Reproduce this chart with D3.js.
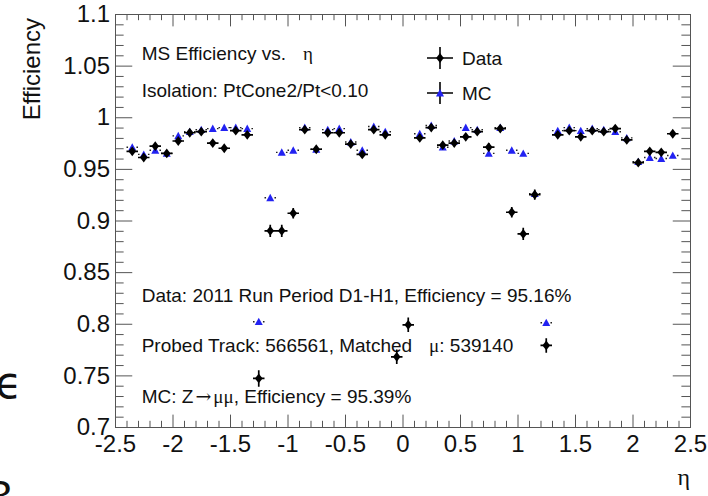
<!DOCTYPE html>
<html>
<head>
<meta charset="utf-8">
<script src="https://cdn.jsdelivr.net/npm/d3@7/dist/d3.min.js"></script>
<style>
  html, body { margin: 0; padding: 0; background: #fff; }
  svg { display: block; font-family: "Liberation Sans", Arial, Helvetica, sans-serif; }
  .greek { font-family: "Liberation Serif", "DejaVu Serif", serif; }
</style>
</head>
<body>
<svg id="chart" width="708" height="496"></svg>
<script>
// Muon spectrometer efficiency per eta bin (bin width 0.1)
const eta = [-2.35, -2.25, -2.15, -2.05, -1.95, -1.85, -1.75, -1.65, -1.55, -1.45, -1.35,
             -1.25, -1.15, -1.05, -0.95, -0.85, -0.75, -0.65, -0.55, -0.45, -0.35, -0.25, -0.15, -0.05,
             0.05, 0.15, 0.25, 0.35, 0.45, 0.55, 0.65, 0.75, 0.85, 0.95, 1.05, 1.15, 1.25,
             1.35, 1.45, 1.55, 1.65, 1.75, 1.85, 1.95, 2.05, 2.15, 2.25, 2.35];
const etaHalfWidth = 0.05;

const dataEff = [0.967, 0.961, 0.972, 0.965, 0.977, 0.985, 0.986, 0.975, 0.970, 0.987, 0.983,
                 0.747, 0.890, 0.890, 0.907, 0.988, 0.969, 0.985, 0.985, 0.974, 0.964, 0.988, 0.983, 0.768,
                 0.799, 0.980, 0.990, 0.973, 0.975, 0.981, 0.986, 0.971, 0.989, 0.908, 0.887, 0.925, 0.779,
                 0.983, 0.987, 0.981, 0.987, 0.986, 0.989, 0.978, 0.956, 0.967, 0.966, 0.984];
const dataErr = [0.003, 0.003, 0.003, 0.003, 0.003, 0.003, 0.003, 0.003, 0.003, 0.003, 0.003,
                 0.008, 0.006, 0.006, 0.005, 0.003, 0.003, 0.003, 0.003, 0.003, 0.003, 0.003, 0.003, 0.007,
                 0.007, 0.003, 0.003, 0.003, 0.003, 0.003, 0.003, 0.004, 0.003, 0.005, 0.006, 0.005, 0.007,
                 0.003, 0.003, 0.003, 0.003, 0.003, 0.003, 0.003, 0.003, 0.003, 0.003, 0.003];
const mcEff = [0.971, 0.964, 0.968, 0.965, 0.982, 0.986, 0.988, 0.989, 0.990, 0.990, 0.989,
               0.802, 0.922, 0.966, 0.968, 0.990, 0.969, 0.988, 0.989, 0.976, 0.968, 0.991, 0.986, null,
               null, 0.984, 0.992, 0.971, 0.977, 0.990, 0.988, 0.965, 0.990, 0.968, 0.965, 0.926, 0.801,
               0.987, 0.990, 0.987, 0.989, 0.988, 0.986, 0.980, 0.957, 0.961, 0.960, 0.963];

const xMajorTicks = [-2.5, -2, -1.5, -1, -0.5, 0, 0.5, 1, 1.5, 2, 2.5];
const yMajorTicks = [0.7, 0.75, 0.8, 0.85, 0.9, 0.95, 1, 1.05, 1.1];

const legendLabels = ["Data", "MC"];
const infoTop = ["MS Efficiency vs.", "Isolation: PtCone2/Pt<0.10"];
const infoBottom = ["Data: 2011 Run Period D1-H1, Efficiency = 95.16%",
                    "Probed Track: 566561, Matched", ": 539140",
                    "MC: Z", ", Efficiency = 95.39%"];

const W = 708, H = 496;
const frame = { left: 115, right: 690, top: 14, bottom: 427 };
const mcColor = "#2222f2";
const axisColor = "#555";

const svg = d3.select("#chart");
svg.append("rect").attr("width", W).attr("height", H).attr("fill", "#fff");

const x = d3.scaleLinear().domain([-2.5, 2.5]).range([frame.left, frame.right]);
const y = d3.scaleLinear().domain([0.7, 1.1]).range([frame.bottom, frame.top]);

const fw = frame.right - frame.left, fh = frame.bottom - frame.top;
const xTickLen = 0.03 * fh, yTickLen = 0.03 * fw;
const xMinor = d3.range(-25, 26).map(i => i / 10).filter(v => !xMajorTicks.some(t => Math.abs(t - v) < 1e-9));
const yMinor = d3.range(70, 111).map(i => i / 100).filter(v => !yMajorTicks.some(t => Math.abs(t - v) < 1e-9));

const fmt = d => String(+d.toFixed(2));

function styleAxis(g) {
  g.select(".domain").remove();
  g.selectAll(".tick line").attr("stroke", axisColor).attr("stroke-width", 1);
  g.selectAll(".tick text").attr("fill", "#111").attr("font-size", 24)
    .attr("font-family", "'Liberation Sans', Arial, sans-serif");
}

// bottom axis
svg.append("g").attr("transform", `translate(0,${frame.bottom})`)
  .call(d3.axisBottom(x).tickValues(xMajorTicks).tickSize(-xTickLen).tickPadding(8).tickFormat(fmt))
  .call(styleAxis)
  .call(g => g.selectAll(".tick text").attr("y", 8).attr("dy", "0.72em"));
svg.append("g").attr("transform", `translate(0,${frame.bottom})`)
  .call(d3.axisBottom(x).tickValues(xMinor).tickSize(-xTickLen / 2).tickFormat(""))
  .call(styleAxis);
// top axis (mirrored ticks)
svg.append("g").attr("transform", `translate(0,${frame.top})`)
  .call(d3.axisTop(x).tickValues(xMajorTicks).tickSize(-xTickLen).tickFormat(""))
  .call(styleAxis);
svg.append("g").attr("transform", `translate(0,${frame.top})`)
  .call(d3.axisTop(x).tickValues(xMinor).tickSize(-xTickLen / 2).tickFormat(""))
  .call(styleAxis);
// left axis
svg.append("g").attr("transform", `translate(${frame.left},0)`)
  .call(d3.axisLeft(y).tickValues(yMajorTicks).tickSize(-yTickLen).tickPadding(5).tickFormat(fmt))
  .call(styleAxis)
  .call(g => g.selectAll(".tick text").attr("x", -5));
svg.append("g").attr("transform", `translate(${frame.left},0)`)
  .call(d3.axisLeft(y).tickValues(yMinor).tickSize(-yTickLen / 2).tickFormat(""))
  .call(styleAxis);
// right axis (mirrored ticks)
svg.append("g").attr("transform", `translate(${frame.right},0)`)
  .call(d3.axisRight(y).tickValues(yMajorTicks).tickSize(-yTickLen).tickFormat(""))
  .call(styleAxis);
svg.append("g").attr("transform", `translate(${frame.right},0)`)
  .call(d3.axisRight(y).tickValues(yMinor).tickSize(-yTickLen / 2).tickFormat(""))
  .call(styleAxis);

// frame
svg.append("rect")
  .attr("x", frame.left + 0.5).attr("y", frame.top + 0.5)
  .attr("width", fw).attr("height", fh)
  .attr("fill", "none").attr("stroke", axisColor).attr("stroke-width", 1);

// axis titles
svg.append("text")
  .attr("transform", `translate(40,${frame.top + 4}) rotate(-90)`)
  .attr("text-anchor", "end").attr("font-size", 24).attr("fill", "#111")
  .text("Efficiency");
svg.append("text")
  .attr("class", "greek")
  .attr("x", frame.right).attr("y", 485)
  .attr("text-anchor", "end").attr("font-size", 24).attr("fill", "#111")
  .text("η");

// info texts
const info = svg.append("g").attr("font-size", 19).attr("fill", "#111");
const tA = info.append("text").attr("x", 141.7).attr("y", 60).text(infoTop[0]);
tA.append("tspan").attr("class", "greek").attr("dx", 17).text("η");
info.append("text").attr("x", 141.7).attr("y", 97).text(infoTop[1]);
info.append("text").attr("x", 141.7).attr("y", 302).text(infoBottom[0]);
const tB = info.append("text").attr("x", 141.7).attr("y", 352).text(infoBottom[1]);
tB.append("tspan").attr("class", "greek").attr("dx", 17).text("μ");
tB.append("tspan").text(infoBottom[2]);
const tC = info.append("text").attr("x", 141.7).attr("y", 403).text(infoBottom[3]);
tC.append("tspan").attr("font-family", "'DejaVu Serif', serif").attr("dx", 2).text("→");
tC.append("tspan").attr("class", "greek").attr("dx", 2).text("μμ");
tC.append("tspan").text(infoBottom[4]);

// marker shapes
const diamond = (cx, cy, a = 3.8, b = 4.9) =>
  `M${cx},${cy - b}L${cx + a},${cy}L${cx},${cy + b}L${cx - a},${cy}Z`;
const triangle = (cx, cy, r = 4.0) =>
  `M${cx - r},${cy + r * 0.85}L${cx + r},${cy + r * 0.85}L${cx},${cy - r * 1.0}Z`;

const pts = eta.map((e, i) => ({ eta: e, data: dataEff[i], dErr: dataErr[i], mc: mcEff[i] }));

// MC: horizontal bin-width bars (gap at the marker) + blue triangles
const mcPts = pts.filter(d => d.mc != null);
const mcG = svg.append("g");
mcG.selectAll("path.mcbar").data(mcPts).join("path")
  .attr("class", "mcbar")
  .attr("d", d => {
    const cx = x(d.eta), cy = y(d.mc);
    const x0 = x(d.eta - etaHalfWidth), x1 = x(d.eta + etaHalfWidth);
    return `M${x0},${cy}L${cx - 4.2},${cy}M${cx + 4.2},${cy}L${x1},${cy}`;
  })
  .attr("stroke", "#222").attr("stroke-width", 1.4).attr("fill", "none");
mcG.selectAll("path.mcmark").data(mcPts).join("path")
  .attr("class", "mcmark")
  .attr("d", d => triangle(x(d.eta), y(d.mc)))
  .attr("fill", mcColor);

// Data: error cross + black diamonds
const dG = svg.append("g");
dG.selectAll("path.dbar").data(pts).join("path")
  .attr("class", "dbar")
  .attr("d", d => {
    const cy = y(d.data), cx = x(d.eta);
    return `M${x(d.eta - etaHalfWidth)},${cy}L${x(d.eta + etaHalfWidth)},${cy}` +
           `M${cx},${y(d.data - d.dErr)}L${cx},${y(d.data + d.dErr)}`;
  })
  .attr("stroke", "#000").attr("stroke-width", 1.7).attr("fill", "none");
dG.selectAll("path.dmark").data(pts).join("path")
  .attr("class", "dmark")
  .attr("d", d => diamond(x(d.eta), y(d.data)))
  .attr("fill", "#000");

// legend
const leg = svg.append("g");
const legRows = [{ label: legendLabels[0], cy: 58, kind: "data" }, { label: legendLabels[1], cy: 93, kind: "mc" }];
legRows.forEach(r => {
  const cx = 440;
  leg.append("path")
    .attr("d", `M${cx - 13},${r.cy}L${cx + 13},${r.cy}M${cx},${r.cy - 11}L${cx},${r.cy + 11}`)
    .attr("stroke", "#000").attr("stroke-width", 1.6).attr("fill", "none");
  leg.append("path")
    .attr("d", r.kind === "data" ? diamond(cx, r.cy) : triangle(cx, r.cy))
    .attr("fill", r.kind === "data" ? "#000" : mcColor);
  leg.append("text").attr("x", 462).attr("y", r.cy + 6.5)
    .attr("font-size", 19).attr("fill", "#111").text(r.label);
});

// partly visible glyphs along the left edge
svg.append("text").attr("font-family", "'DejaVu Sans', sans-serif").attr("x", -5).attr("y", 398)
  .attr("font-size", 44).attr("fill", "#111").text("ϵ");
svg.append("text").attr("x", -12).attr("y", 512)
  .attr("font-size", 44).attr("fill", "#111").text("3");
</script>
</body>
</html>
